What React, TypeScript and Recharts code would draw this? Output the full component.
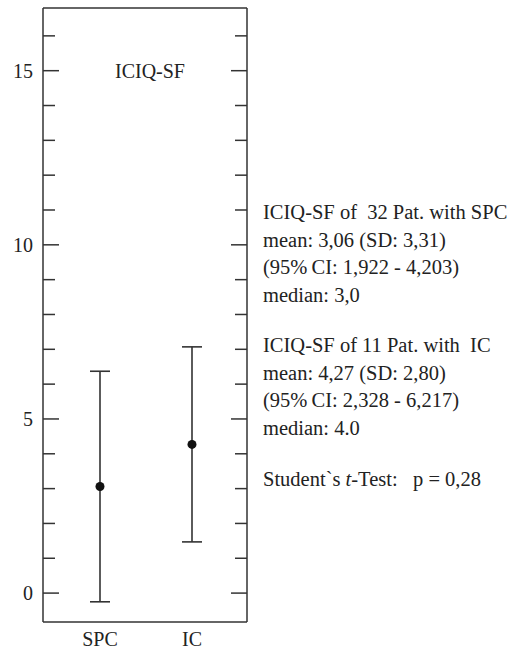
import { ComposedChart, Line, ErrorBar, XAxis, YAxis, ReferenceLine } from 'recharts'

const categories = ['SPC', 'IC']
const means = [3.06, 4.27]
const sds = [3.31, 2.8]
const yTicks = [0, 1, 2, 3, 4, 5, 6, 7, 8, 9, 10, 11, 12, 13, 14, 15, 16]
const yLabelStep = 5

const spcLines = ['ICIQ-SF of  32 Pat. with SPC', 'mean: 3,06 (SD: 3,31)', '(95%\u2009CI: 1,922 - 4,203)', 'median: 3,0']
const icLines = ['ICIQ-SF of 11 Pat. with  IC', 'mean: 4,27 (SD: 2,80)', '(95%\u2009CI: 2,328 - 6,217)', 'median: 4.0']

const data = categories.map((name, i) => ({ name, mean: means[i], sd: sds[i] }))

const FONT = '"Liberation Serif", "Times New Roman", serif'
const INK = '#333'
const PLOT_LEFT = 43
const PLOT_RIGHT = 247

function YTick(props: any) {
  const { y, payload } = props
  const v = payload.value
  const major = v % yLabelStep === 0
  const len = major ? 16 : 12
  return (
    <g>
      <line x1={PLOT_LEFT} x2={PLOT_LEFT + len} y1={y} y2={y} stroke={INK} strokeWidth={1.5} />
      <line x1={PLOT_RIGHT} x2={PLOT_RIGHT - len} y1={y} y2={y} stroke={INK} strokeWidth={1.5} />
      {major && (
        <text x={PLOT_LEFT - 10} y={y} dy="0.35em" textAnchor="end" fontFamily={FONT} fontSize={20} fill="#222">
          {v}
        </text>
      )}
    </g>
  )
}

export default function App() {
  return (
    <div style={{ position: 'absolute', left: 0, top: 0, width: 525, height: 651, background: '#fff' }}>
      <ComposedChart width={525} height={651} data={data} margin={{ top: 7, right: 277, bottom: 0, left: 0 }}>
        <XAxis
          xAxisId="bottom"
          dataKey="name"
          height={29}
          padding={{ left: 57, right: 55 }}
          axisLine={{ stroke: INK, strokeWidth: 1.5 }}
          tickLine={false}
          tickSize={0}
          tickMargin={10}
          tick={{ fontFamily: FONT, fontSize: 20, fill: '#222' }}
        />
        <XAxis xAxisId="top" dataKey="name" orientation="top" height={1} tick={false} tickLine={false} axisLine={{ stroke: INK, strokeWidth: 1.5 }} />
        <YAxis
          yAxisId="left"
          width={43}
          type="number"
          domain={[-0.83, 16.8]}
          allowDataOverflow
          ticks={yTicks}
          interval={0}
          axisLine={{ stroke: INK, strokeWidth: 1.5 }}
          tickLine={false}
          tick={<YTick />}
        />
        <YAxis
          yAxisId="right"
          orientation="right"
          width={1}
          type="number"
          domain={[-0.83, 16.8]}
          allowDataOverflow
          tick={false}
          tickLine={false}
          axisLine={{ stroke: INK, strokeWidth: 1.5 }}
        />
        <ReferenceLine
          xAxisId="bottom"
          yAxisId="left"
          y={15}
          stroke="none"
          label={{ value: 'ICIQ-SF', position: 'center', dx: 5, fontFamily: FONT, fontSize: 20, fill: '#222' }}
        />
        <Line
          xAxisId="bottom"
          yAxisId="left"
          dataKey="mean"
          stroke="none"
          isAnimationActive={false}
          dot={{ r: 4.5, fill: '#111', stroke: '#111', strokeWidth: 0 }}
          activeDot={false}
        >
          <ErrorBar dataKey="sd" width={10} stroke={INK} strokeWidth={1.6} direction="y" isAnimationActive={false} />
        </Line>
      </ComposedChart>
      <div
        style={{
          position: 'absolute',
          left: 263,
          top: 199,
          fontFamily: FONT,
          fontSize: 20.5,
          lineHeight: '27.5px',
          color: '#222',
          whiteSpace: 'pre',
        }}
      >
        {spcLines.map((l) => (
          <div key={l}>{l}</div>
        ))}
        <div style={{ height: 23 }} />
        {icLines.map((l) => (
          <div key={l}>{l}</div>
        ))}
        <div style={{ height: 24 }} />
        <div>
          Student`s <i>t</i>-Test:   p = 0,28
        </div>
      </div>
    </div>
  )
}
